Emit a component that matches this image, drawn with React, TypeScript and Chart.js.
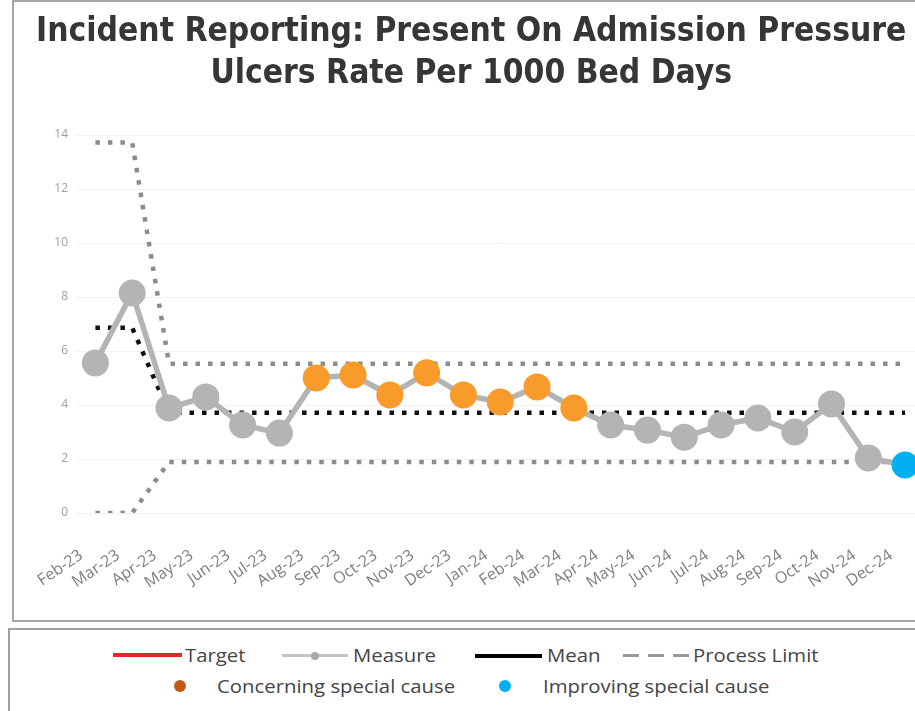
import React, { useEffect, useRef } from "react";
import { Chart, registerables } from "chart.js";

Chart.register(...registerables);

const months = [
  "Feb-23", "Mar-23", "Apr-23", "May-23", "Jun-23", "Jul-23", "Aug-23", "Sep-23",
  "Oct-23", "Nov-23", "Dec-23", "Jan-24", "Feb-24", "Mar-24", "Apr-24", "May-24",
  "Jun-24", "Jul-24", "Aug-24", "Sep-24", "Oct-24", "Nov-24", "Dec-24",
];

const measure = [
  5.56, 8.15, 3.89, 4.3, 3.26, 2.96, 5.0, 5.11, 4.37, 5.19, 4.37, 4.11, 4.67, 3.89,
  3.26, 3.07, 2.81, 3.26, 3.52, 3.0, 4.04, 2.04, 1.78,
];

const mean = [
  6.86, 6.86, 3.71, 3.71, 3.71, 3.71, 3.71, 3.71, 3.71, 3.71, 3.71, 3.71, 3.71, 3.71,
  3.71, 3.71, 3.71, 3.71, 3.71, 3.71, 3.71, 3.71, 3.71,
];

const upperLimit = [
  13.72, 13.72, 5.53, 5.53, 5.53, 5.53, 5.53, 5.53, 5.53, 5.53, 5.53, 5.53, 5.53, 5.53,
  5.53, 5.53, 5.53, 5.53, 5.53, 5.53, 5.53, 5.53, 5.53,
];

const lowerLimit = [
  0, 0, 1.89, 1.89, 1.89, 1.89, 1.89, 1.89, 1.89, 1.89, 1.89, 1.89, 1.89, 1.89,
  1.89, 1.89, 1.89, 1.89, 1.89, 1.89, 1.89, 1.89, 1.89,
];

// "n" = normal, "c" = concerning special cause, "i" = improving special cause
const pointStatus = [
  "n", "n", "n", "n", "n", "n", "c", "c", "c", "c", "c", "c", "c", "c",
  "n", "n", "n", "n", "n", "n", "n", "n", "i",
];

const titleLines = [
  "Incident Reporting: Present On Admission Pressure",
  "Ulcers Rate Per 1000 Bed Days",
];

const GRAY = "#b4b4b4";
const ORANGE = "#f99b2b";
const BLUE = "#00b0f0";

export default function App() {
  const ref = useRef<HTMLCanvasElement | null>(null);

  useEffect(() => {
    if (!ref.current) return;
    const colors = pointStatus.map((s) => (s === "c" ? ORANGE : s === "i" ? BLUE : GRAY));
    const chart = new Chart(ref.current, {
      type: "line",
      data: {
        labels: months,
        datasets: [
          {
            label: "Measure",
            data: measure,
            borderColor: GRAY,
            borderWidth: 5.5,
            pointRadius: 13.5,
            pointBackgroundColor: colors,
            pointBorderColor: colors,
            pointBorderWidth: 0,
            tension: 0,
            order: 0,
          },
          {
            label: "Mean",
            data: mean,
            borderColor: "#111111",
            borderWidth: 4.5,
            borderDash: [4.5, 8],
            pointRadius: 0,
            tension: 0,
            order: 1,
          },
          {
            label: "Upper Process Limit",
            data: upperLimit,
            borderColor: "#8c8c8c",
            borderWidth: 4.5,
            borderDash: [4.5, 8],
            pointRadius: 0,
            tension: 0,
            order: 2,
          },
          {
            label: "Lower Process Limit",
            data: lowerLimit,
            borderColor: "#8c8c8c",
            borderWidth: 4.5,
            borderDash: [4.5, 8],
            pointRadius: 0,
            tension: 0,
            order: 3,
          },
        ],
      },
      options: {
        responsive: false,
        animation: false,
        events: [],
        layout: { padding: { left: 4, right: 26.5, top: 0, bottom: 0 } },
        plugins: {
          legend: { display: false },
          tooltip: { enabled: false },
          title: {
            display: true,
            text: titleLines,
            color: "#363636",
            font: { family: "'DejaVu Sans Condensed', sans-serif", size: 33.3, weight: "bold", lineHeight: 42 / 33.3 },
            padding: { top: 9.5, bottom: 39.5 },
          },
        },
        scales: {
          x: {
            offset: true,
            grid: { display: false, drawTicks: false },
            border: { display: false },
            ticks: {
              autoSkip: false,
              maxRotation: 34,
              minRotation: 34,
              labelOffset: -14,
              padding: 33,
              color: "#7f7f7f",
              font: { family: "'Open Sans', sans-serif", size: 16 },
            },
            afterFit: (s: any) => {
              s.height = 105;
            },
          },
          y: {
            min: 0,
            max: 14,
            grid: { color: "#f1f1f1", drawTicks: false, lineWidth: 1 },
            border: { display: false },
            ticks: {
              stepSize: 2,
              padding: 9,
              color: "#a0a0a0",
              font: { family: "'Open Sans', sans-serif", size: 12 },
            },
            afterFit: (s: any) => {
              s.width = 58;
            },
          },
        },
      },
    });
    return () => chart.destroy();
  }, []);

  const text = (left: number, top: number, s: string) => (
    <div
      style={{
        position: "absolute",
        left,
        top,
        fontFamily: "'Open Sans', sans-serif",
        fontSize: 18,
        color: "#454545",
        lineHeight: "22px",
        whiteSpace: "nowrap",
        transform: "scaleX(1.13)",
        transformOrigin: "left center",
      }}
    >
      {s}
    </div>
  );
  const bar = (left: number, width: number, top: number, height: number, color: string) => (
    <div style={{ position: "absolute", left, top, width, height, background: color }} />
  );
  const dot = (cx: number, cy: number, d: number, color: string) => (
    <div
      style={{
        position: "absolute",
        left: cx - d / 2,
        top: cy - d / 2,
        width: d,
        height: d,
        borderRadius: "50%",
        background: color,
      }}
    />
  );

  return (
    <div
      style={{
        position: "absolute",
        left: 0,
        top: 0,
        width: 915,
        height: 711,
        overflow: "hidden",
        background: "#fff",
      }}
    >
      <div
        style={{
          position: "absolute",
          left: 12,
          top: 0,
          width: 1000,
          height: 622,
          boxSizing: "border-box",
          border: "2px solid #a6a6a6",
        }}
      />
      <canvas
        ref={ref}
        width={935}
        height={616}
        style={{ position: "absolute", left: 15, top: 2, width: 935, height: 616 }}
      />
      <div
        style={{
          position: "absolute",
          left: 8,
          top: 628,
          width: 1000,
          height: 200,
          boxSizing: "border-box",
          border: "2px solid #a0a0a0",
        }}
      />
      {bar(113, 69, 653, 4, "#e02828")}
      {text(185, 644, "Target")}
      {bar(282, 66, 654, 3, "#c4c4c4")}
      {dot(315, 655.5, 8, "#a8a8a8")}
      {text(353, 644, "Measure")}
      {bar(475, 67, 654, 4, "#000")}
      {text(547, 644, "Mean")}
      {bar(623, 16, 654, 3, "#9a9a9a")}
      {bar(648, 16, 654, 3, "#9a9a9a")}
      {bar(673, 16, 654, 3, "#9a9a9a")}
      {text(693, 644, "Process Limit")}
      {dot(180, 686, 12, "#c55a11")}
      {text(217, 675, "Concerning special cause")}
      {dot(505, 686, 12, BLUE)}
      {text(543, 675, "Improving special cause")}
    </div>
  );
}
